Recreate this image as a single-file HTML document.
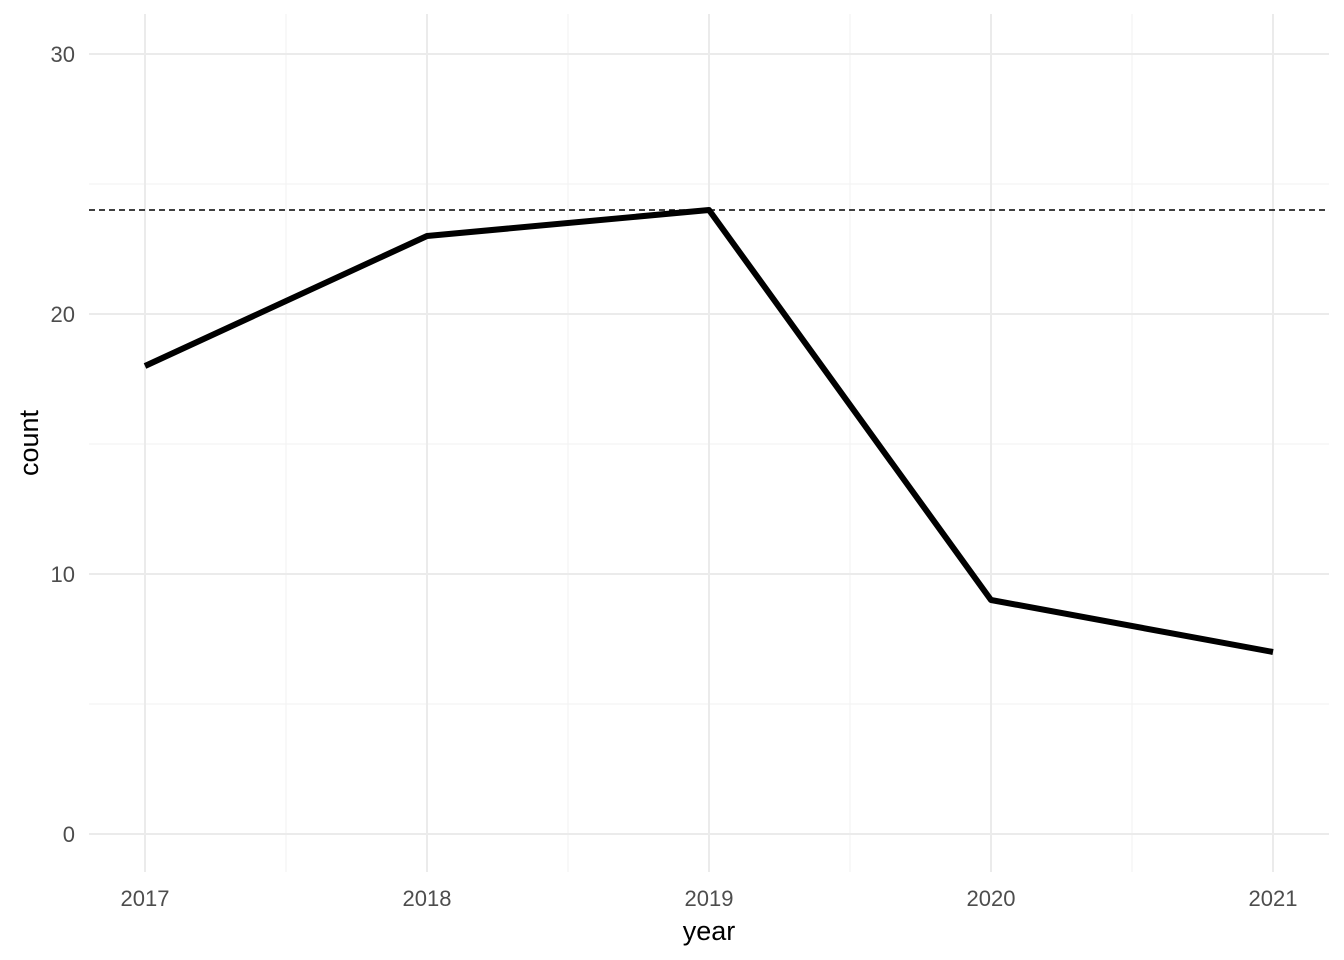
<!DOCTYPE html>
<html>
<head>
<meta charset="utf-8">
<style>
html,body{margin:0;padding:0;background:#fff;}
svg{display:block;font-family:"Liberation Sans",Arial,sans-serif;}
</style>
</head>
<body>
<svg id="chart" width="1344" height="960" viewBox="0 0 1344 960" xmlns="http://www.w3.org/2000/svg">
<g id="grid"></g>
<line id="refline" stroke="#000" stroke-width="1.6" stroke-dasharray="6,4"/>
<path id="series" fill="none" stroke="#000" stroke-width="6" stroke-linejoin="round" stroke-linecap="butt"/>
<g id="ylabels"></g>
<g id="xlabels"></g>
<text x="709" y="940" text-anchor="middle" font-size="27" fill="#000">year</text>
<text transform="translate(38,443) rotate(-90)" text-anchor="middle" font-size="27" fill="#000">count</text>
</svg>
<script>
const years = [2017, 2018, 2019, 2020, 2021];
const counts = [18, 23, 24, 9, 7];
const refValue = 24;
const yTicks = [0, 10, 20, 30];
const yMinor = [5, 15, 25];

const NS = "http://www.w3.org/2000/svg";
const panel = {left: 89, right: 1329, top: 14, bottom: 872};
function xs(v){ return 145 + (v - 2017) * 282; }
function ys(v){ return 834 - v * 26; }

const grid = document.getElementById('grid');
function gline(x1,y1,x2,y2,w,c){
  const l = document.createElementNS(NS,'line');
  l.setAttribute('x1',x1);l.setAttribute('y1',y1);l.setAttribute('x2',x2);l.setAttribute('y2',y2);
  l.setAttribute('stroke',c);l.setAttribute('stroke-width',w);
  
  
  grid.appendChild(l);
}
yMinor.forEach(v=>gline(panel.left,ys(v),panel.right,ys(v),1,'#f2f2f2'));
for(let i=0;i<years.length-1;i++){ const x=(xs(years[i])+xs(years[i+1]))/2; gline(x,panel.top,x,panel.bottom,1,'#f2f2f2'); }
yTicks.forEach(v=>gline(panel.left,ys(v),panel.right,ys(v),2,'#ebebeb'));
years.forEach(v=>gline(xs(v),panel.top,xs(v),panel.bottom,2,'#ebebeb'));

const ref = document.getElementById('refline');
ref.setAttribute('x1',panel.left);ref.setAttribute('x2',panel.right);
ref.setAttribute('y1',ys(refValue));ref.setAttribute('y2',ys(refValue));

document.getElementById('series').setAttribute('d',
  years.map((y,i)=>(i?'L':'M')+xs(y)+','+ys(counts[i])).join(' '));

const yl = document.getElementById('ylabels');
yTicks.forEach(v=>{
  const t=document.createElementNS(NS,'text');
  t.setAttribute('x',75);t.setAttribute('y',ys(v)+8);
  t.setAttribute('text-anchor','end');t.setAttribute('font-size','22');t.setAttribute('fill','#4d4d4d');
  
  
  t.textContent=v; yl.appendChild(t);
});
const xl = document.getElementById('xlabels');
years.forEach(v=>{
  const t=document.createElementNS(NS,'text');
  t.setAttribute('x',xs(v));t.setAttribute('y',906);
  t.setAttribute('text-anchor','middle');t.setAttribute('font-size','22');t.setAttribute('fill','#4d4d4d');
  
  
  t.textContent=v; xl.appendChild(t);
});
</script>
</body>
</html>
